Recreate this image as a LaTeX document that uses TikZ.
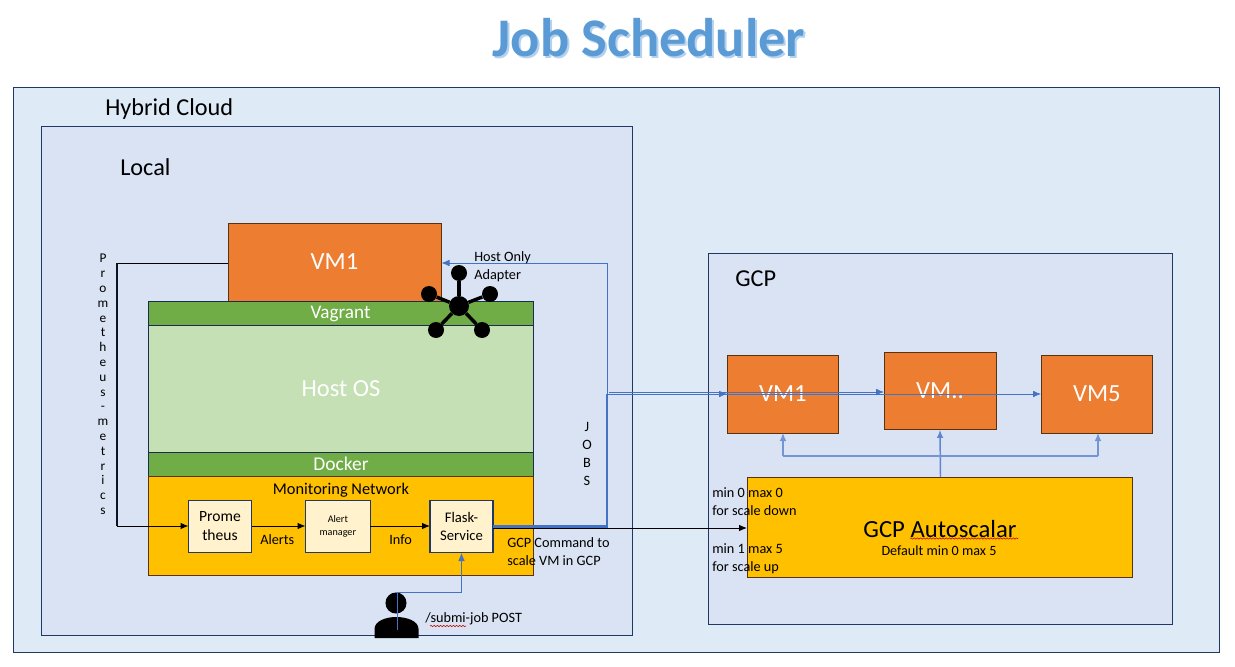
\documentclass[tikz,border=0pt]{standalone}
\usepackage{fontspec}
\setmainfont{Carlito}
\usetikzlibrary{arrows.meta,decorations.pathmorphing}
\definecolor{hybridfill}{HTML}{DEEAF6}
\definecolor{panelfill}{HTML}{D9E3F3}
\definecolor{navy}{HTML}{1F3864}
\definecolor{vmorange}{HTML}{ED7D31}
\definecolor{vmedge}{HTML}{5B3210}
\definecolor{green1}{HTML}{70AD47}
\definecolor{green2}{HTML}{C5E0B4}
\definecolor{gold}{HTML}{FFC000}
\definecolor{cream}{HTML}{FFF2CC}
\definecolor{linkblue}{HTML}{4472C4}
\definecolor{titleblue}{HTML}{5B9BD5}
\definecolor{titleshade}{HTML}{B4D2EE}
\newcommand{\fs}[1]{\fontsize{#1}{#1}\selectfont\setlength{\baselineskip}{1.22\baselineskip}}
\tikzset{
  x=0.75pt,y=-0.75pt,
  panel/.style={draw=navy,line width=0.6pt,fill=panelfill},
  box/.style={inner sep=0,outer sep=0,anchor=north west},
  vmbox/.style={box,draw=vmedge,line width=0.6pt,fill=vmorange,text=white},
  layer/.style={box,draw=navy!80!black,line width=0.6pt,text=white},
  svc/.style={box,draw=navy,line width=0.8pt,fill=cream,align=center,text=black},
  lbl/.style={inner sep=0,anchor=west,align=left,text=black,font=\fs{10.7}},
  lbltwo/.style={lbl,font=\fontsize{10.7}{13.5}\selectfont},
  stack/.style={inner sep=0,anchor=north,align=center,text=black,font=\fontsize{10}{11.1}\selectfont},
  blk/.style={draw=black,line width=0.75pt,-{Latex[length=6pt,width=5pt]}},
  blu/.style={draw=linkblue,line width=0.6pt,-{Latex[length=6pt,width=5pt]}},
  bluw/.style={draw=linkblue!85!white,line width=1.1pt,-{Latex[length=6pt,width=5pt]}},
  hubdot/.style={circle,fill=black,inner sep=0,minimum size=12pt},
  hubspoke/.style={draw=black,line width=2.6pt},
  squig/.style={draw=red!75!black,line width=0.4pt,decorate,decoration={snake,amplitude=0.5pt,segment length=2.4pt}},
}
\begin{document}
\begin{tikzpicture}
\useasboundingbox (0,0) rectangle (1235,667);
\fill[white] (0,0) rectangle (1235,667);

% title
\node[text=titleshade,font=\bfseries\fontsize{40.8}{44}\selectfont,inner sep=0] at (651,39.5) {Job Scheduler};
\node[text=titleblue,font=\bfseries\fontsize{40.8}{44}\selectfont,inner sep=0] at (649,38) {Job Scheduler};

% containers
\draw[draw=navy,line width=0.6pt,fill=hybridfill] (13,87) rectangle (1219,652);
\draw[panel] (41,126) rectangle (632,635);
\draw[panel] (708,253) rectangle (1172,624);
\node[lbl,font=\fs{18.2}] (thybrid) at (105,109) {Hybrid Cloud};
\node[lbl,font=\fs{18.2}] (tlocal) at (120,167) {Local};
\node[lbl,font=\fs{18.2}] (tgcp) at (735,279) {GCP};

% local stack
\node[vmbox,minimum width=159.75pt,minimum height=58.5pt,font=\fs{18.5}] (vm) at (228,223) {VM1};
\node[layer,fill=green1,minimum width=288.75pt,minimum height=18pt] (vagrant) at (148.5,301) {};
\node[text=white,font=\fs{14.4},inner sep=0] (tvagrant) at (340.5,314) {Vagrant};
\node[layer,fill=green2,minimum width=288.75pt,minimum height=95.25pt,font=\fs{18.4}] (host) at (148.5,325) {Host OS};
\node[layer,fill=green1,minimum width=288.75pt,minimum height=18pt,font=\fs{14.6}] (docker) at (148.5,452) {Docker};
\node[box,draw=vmedge,line width=0.6pt,fill=gold,minimum width=288.75pt,minimum height=74.25pt] (mon) at (148.5,476) {};
\node[inner sep=0,font=\fs{12.3},text=black] (tmon) at (341,490) {Monitoring Network};

\node[svc,minimum width=47.25pt,minimum height=39pt,font=\fs{11.7}] (prom) at (188.5,500.5) {Prome\\theus};
\node[svc,minimum width=48.5pt,minimum height=39pt,font=\fs{7.6}] (alert) at (305.5,500.5) {Alert\\manager};
\node[svc,minimum width=47.25pt,minimum height=39pt,font=\fs{11}] (flask) at (430,500.5) {Flask-\\Service};

% GCP side
\node[vmbox,minimum width=83.75pt,minimum height=58.5pt,font=\fs{18.5}] (g1) at (727,355) {VM1};
\node[vmbox,minimum width=84pt,minimum height=58pt,font=\fs{18.5}] (g2) at (884,352.5) {VM..};
\node[vmbox,minimum width=83.75pt,minimum height=58.5pt,font=\fs{18.5}] (g5) at (1041,355) {VM5};
\node[box,draw=vmedge,line width=0.6pt,fill=gold,minimum width=288.75pt,minimum height=75pt] (auto) at (747,477) {};
\node[inner sep=0,font=\fs{18.5},text=black] (tauto) at (940,529) {GCP Autoscalar};
\node[inner sep=0,font=\fs{10.6},text=black] (tdef) at (939,551) {Default min 0 max 5};
\draw[squig] (910,538.5) -- (1018,538.5);

% connector anchors
\coordinate (pm1) at (117,263);
\coordinate (pm2) at (117,526);
\coordinate (h1) at (607,525);
\coordinate (h2) at (607,263);
\coordinate (j1) at (607,527);
\coordinate (j2) at (607,394);
\coordinate (j3) at (609,392);
\coordinate (jstart) at (493,527);
\coordinate (hstart) at (493,525);
\coordinate (bstart) at (493,528);
\coordinate (h3) at (441.5,263);
\coordinate (vmh) at (783,456);
\coordinate (vml) at (783,433);
\coordinate (vmr) at (1098,456);
\coordinate (vmrt) at (1098,433);
\coordinate (aup) at (940.5,477);
\coordinate (usr1) at (397.5,630);
\coordinate (usr2) at (397.5,592);
\coordinate (usr3) at (461.5,592);
\coordinate (fb) at (461.5,553);

% black connectors
\draw[draw=black,line width=0.75pt] (vm.west |- pm1) -- (pm1);
\draw[draw=black!65!navy,line width=0.9pt] (pm1) -- (pm2);
\draw[blk] (pm2) -- (prom.west |- pm2);
\draw[blk] (prom.east |- pm2) -- (alert.west |- pm2);
\draw[blk] (alert.east |- pm2) -- (flask.west |- pm2);
\draw[blk] (bstart) -- (auto.west |- 0,528);

% blue connectors
\draw[blu] (hstart) -- (h1) -- (h2) -- (h3);
\draw[draw=linkblue,line width=2.1pt] (jstart) -- (j1) -- (j2);
\draw[blu] (j2) -- (g5.west |- j2);
\draw[blu] (j3) -- (g2.west |- j3);
\draw[blu] (j2) -- (g1.west |- j2);
\draw[bluw] (aup) -- (g2.south);
\draw[draw=linkblue!75!white,line width=0.9pt,-{Latex[length=6pt,width=5pt]}] (vmh) -- (vml);
\draw[draw=linkblue!75!white,line width=0.9pt,-{Latex[length=6pt,width=5pt]}] (vmr) -- (vmrt);
\draw[draw=linkblue!75!white,line width=0.9pt] (vmh) -- (vmr);
\draw[blu] (usr3) -- (fb);

% labels
\node[lbltwo] (thost) at (474,266.5) {Host Only\\Adapter};
\node[stack] (tprom) at (103,254) {P\\r\\o\\m\\e\\t\\h\\e\\u\\s\\-\\m\\e\\t\\r\\i\\c\\s};
\node[stack,font=\fontsize{10.7}{13.5}\selectfont] (tjobs) at (587,422) {J\\O\\B\\S};
\node[lbl] (talerts) at (260,540) {Alerts};
\node[lbl] (tinfo) at (389,540) {Info};
\node[lbltwo] (tcmd) at (507,551.5) {GCP Command to\\scale VM in GCP};
\node[lbltwo] (tdown) at (712,502) {min 0 max 0\\for scale down};
\node[lbltwo] (tup) at (712,559) {min 1 max 5\\for scale up};
\node[lbl] (tsubmit) at (425,618.5) {/submi-job POST};
\draw[squig] (430,626) -- (466,626);

% hub icon
\node[hubdot,minimum size=15pt] (hc) at (459,306) {};
\node[hubdot] (ha) at (459,273) {};
\node[hubdot] (hb) at (429,294) {};
\node[hubdot] (hd) at (490,294) {};
\node[hubdot] (he) at (436,330) {};
\node[hubdot] (hf) at (482,330) {};
\foreach \n in {ha,hb,hd,he,hf} \draw[hubspoke] (hc) -- (\n);

% person icon
\fill[black] (396,603) circle[radius=7.9pt];
\fill[black] (374.5,638) -- (374.5,629) .. controls (374.5,621) and (386,617) .. (396,617)
  .. controls (407,617) and (418.5,621) .. (418.5,629) -- (418.5,638) -- cycle;
\draw[draw=linkblue,line width=0.6pt] (usr1) -- (usr2) -- (usr3);
\end{tikzpicture}
\end{document}
